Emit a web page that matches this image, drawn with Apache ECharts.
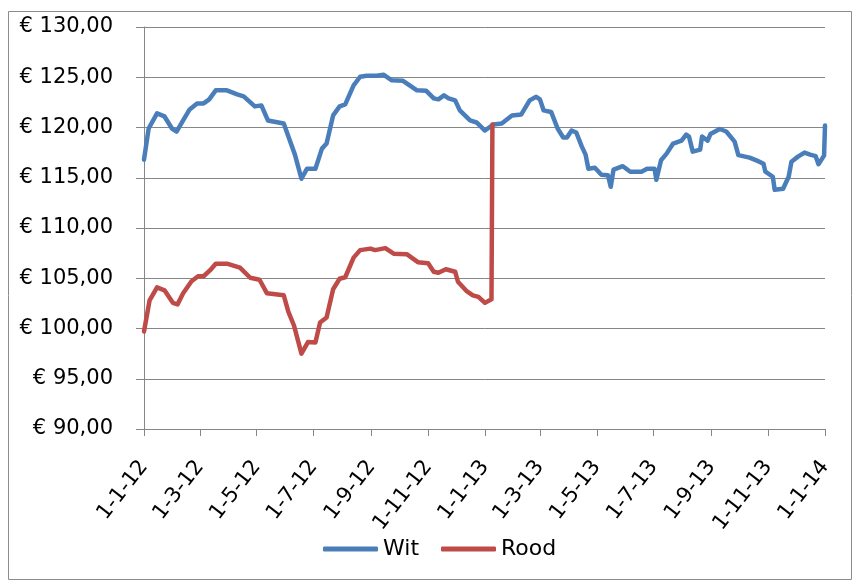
<!DOCTYPE html>
<html>
<head>
<meta charset="utf-8">
<script src="https://cdn.jsdelivr.net/npm/echarts@6/dist/echarts.min.js"></script>
<style>
html,body{margin:0;padding:0;background:#fff;}
#c{width:853px;height:581px;}
</style>
</head>
<body>
<div id="c"></div>
<script>
// x values: days since 1-1-2012
var tickDays = [0, 60, 121, 182, 244, 305, 366, 425, 486, 547, 609, 670, 731];
var tickLabels = ['1-1-12','1-3-12','1-5-12','1-7-12','1-9-12','1-11-12','1-1-13','1-3-13','1-5-13','1-7-13','1-9-13','1-11-13','1-1-14'];

var witDays = [0,5,14,22,30,35,42,49,57,64,70,77,89,100,107,119,126,133,150,155,162,169,175,184,191,196,203,210,216,225,232,239,250,257,266,278,293,303,311,316,322,327,334,339,350,357,366,375,384,395,405,414,421,425,429,437,444,450,454,459,464,470,474,477,484,491,498,501,504,514,522,534,540,548,550,555,561,568,577,582,585,589,597,599,605,608,618,625,634,638,650,658,665,667,675,677,686,692,695,702,709,715,721,724,730,731];
var witValues = [116.8,119.9,121.4,121.1,119.9,119.6,120.7,121.8,122.4,122.4,122.8,123.7,123.7,123.3,123.1,122.1,122.2,120.7,120.4,119.1,117.3,114.9,115.9,115.9,117.9,118.4,121.2,122.1,122.3,124.2,125.05,125.15,125.15,125.25,124.7,124.65,123.7,123.65,122.9,122.8,123.2,122.9,122.7,121.7,120.7,120.5,119.7,120.3,120.4,121.2,121.3,122.7,123.05,122.8,121.7,121.55,119.9,119.0,119.0,119.7,119.5,118.1,117.3,115.9,116.0,115.3,115.25,114.1,115.8,116.15,115.6,115.6,115.9,115.9,114.8,116.75,117.4,118.4,118.7,119.3,119.1,117.6,117.8,119.1,118.7,119.35,119.85,119.6,118.6,117.25,117.0,116.7,116.4,115.6,115.1,113.8,113.9,115.1,116.6,117.1,117.5,117.3,117.15,116.35,117.2,120.2];

var roodDays = [0,6,14,22,31,36,42,51,58,64,71,77,89,103,114,124,132,150,155,161,169,176,184,189,196,203,210,216,225,232,243,248,259,268,282,294,305,311,316,324,334,337,346,353,359,366,373,374];
var roodValues = [99.7,102.8,104.1,103.8,102.55,102.4,103.5,104.7,105.2,105.2,105.8,106.45,106.45,106.05,105.05,104.85,103.5,103.3,101.65,100.3,97.5,98.65,98.6,100.6,101.1,103.9,104.95,105.1,107.05,107.8,107.95,107.8,108.0,107.45,107.4,106.6,106.5,105.65,105.55,105.9,105.65,104.65,103.75,103.3,103.15,102.55,102.9,120.3];

function pairs(xs, ys){ var r=[]; for(var i=0;i<xs.length;i++) r.push([xs[i], ys[i]]); return r; }

var FONT = 'DejaVu Sans';
var chart = echarts.init(document.getElementById('c'), null, {renderer:'canvas'});
chart.setOption({
  animation: false,
  backgroundColor: '#ffffff',
  graphic: [{
    type: 'rect', silent: true,
    shape: {x: 8.5, y: 11.5, width: 843, height: 568},
    style: {fill: 'none', stroke: '#8c8c8c', lineWidth: 1}
  }],
  grid: {left: 144, right: 28, top: 27, bottom: 152, containLabel: false},
  legend: {
    left: 318, top: 533,
    itemWidth: 55, itemHeight: 5, itemGap: 22,
    icon: 'roundRect',
    textStyle: {fontFamily: FONT, fontSize: 22, color: '#000'},
    data: ['Wit', 'Rood']
  },
  xAxis: {
    type: 'value', min: 0, max: 731,
    axisLine: {show: true, lineStyle: {color: '#868686', width: 1}},
    axisTick: {show: true, customValues: tickDays, length: 7, lineStyle: {color: '#868686'}},
    axisLabel: {
      customValues: tickDays, rotate: 52, margin: 34,
      fontFamily: FONT, fontSize: 21, color: '#000',
      formatter: function(v){ var i = tickDays.indexOf(v); return i >= 0 ? tickLabels[i] : ''; }
    },
    splitLine: {show: false}
  },
  yAxis: {
    type: 'value', min: 90, max: 130, interval: 5,
    axisLine: {show: true, lineStyle: {color: '#868686', width: 1}},
    axisTick: {show: true, length: 8, lineStyle: {color: '#868686'}},
    axisLabel: {
      margin: 31, fontFamily: FONT, fontSize: 21, color: '#000',
      formatter: function(v){ return '€ ' + v.toFixed(2).replace('.', ','); }
    },
    splitLine: {show: true, lineStyle: {color: '#868686', width: 1}}
  },
  series: [
    {name: 'Wit', type: 'line', data: pairs(witDays, witValues), showSymbol: false, symbol: 'none',
     color: '#4a7ebb', lineStyle: {width: 4.5, color: '#4a7ebb', cap: 'round', join: 'round'}},
    {name: 'Rood', type: 'line', data: pairs(roodDays, roodValues), showSymbol: false, symbol: 'none',
     color: '#be4b48', lineStyle: {width: 4.5, color: '#be4b48', cap: 'round', join: 'round'}}
  ]
});
</script>
</body>
</html>
